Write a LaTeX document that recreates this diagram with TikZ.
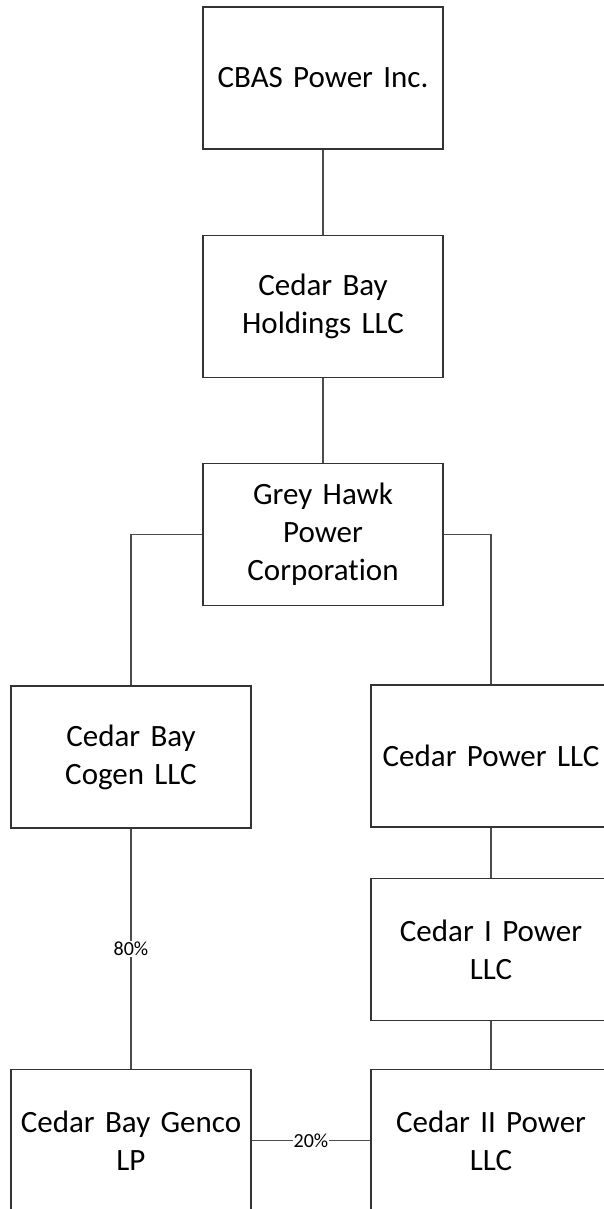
\documentclass[tikz,border=0pt]{standalone}
\usepackage{fontspec}
\setmainfont{Carlito}[Ligatures={NoCommon}, WordSpace=0.85]
\usepackage{xcolor}
\usetikzlibrary{positioning,calc}

\tikzset{
	entity/.style={draw=black!80, line width=1.1pt, minimum width=240pt, minimum height=142pt, text width=230pt, align=center, inner sep=0pt, font=\fontsize{31}{38}\selectfont},
	link/.style={draw=black!70, line width=1.1pt},
	share/.style={fill=white, inner sep=1pt, font=\fontsize{20}{24}\selectfont}
}

\begin{document}
\begin{tikzpicture}[x=1pt,y=1pt]
		
		\useasboundingbox (0,0) rectangle (603,-1209);
		
		\node[entity] (cbas) at (323,-78) {CBAS Power Inc.};
		\node[entity] (holdings) at (323,-306.5) {Cedar Bay\\Holdings LLC};
		\node[entity] (greyhawk) at (323,-534.5) {Grey Hawk\\Power\\Corporation};
		
		\node[entity] (cogen) at (131,-757) {Cedar Bay\\Cogen LLC};
		\node[entity] (cpower) at (491,-756) {Cedar Power LLC};
		\node[entity] (cpowerI) at (491,-949.5) {Cedar I Power\\LLC};
		
		\node[entity] (genco) at (131,-1140.5) {Cedar Bay Genco\\LP};
		\node[entity] (cpowerII) at (491,-1140.5) {Cedar II Power\\LLC};
		
		
		\draw[link] (cbas) -- (holdings);
		\draw[link] (holdings) -- (greyhawk);
		
		\draw[link] (greyhawk.west) -| (cogen.north);
		\draw[link] (greyhawk.east) -| (cpower.north);
		
		\draw[link] (cpower) -- (cpowerI);
		\draw[link] (cpowerI) -- (cpowerII);
		
		\draw[link] (cogen) -- node[share] (eighty) {80\%} (genco);
		\draw[link] (genco) -- node[share] (twenty) {20\%} (cpowerII);
		
	\end{tikzpicture}
\end{document}
